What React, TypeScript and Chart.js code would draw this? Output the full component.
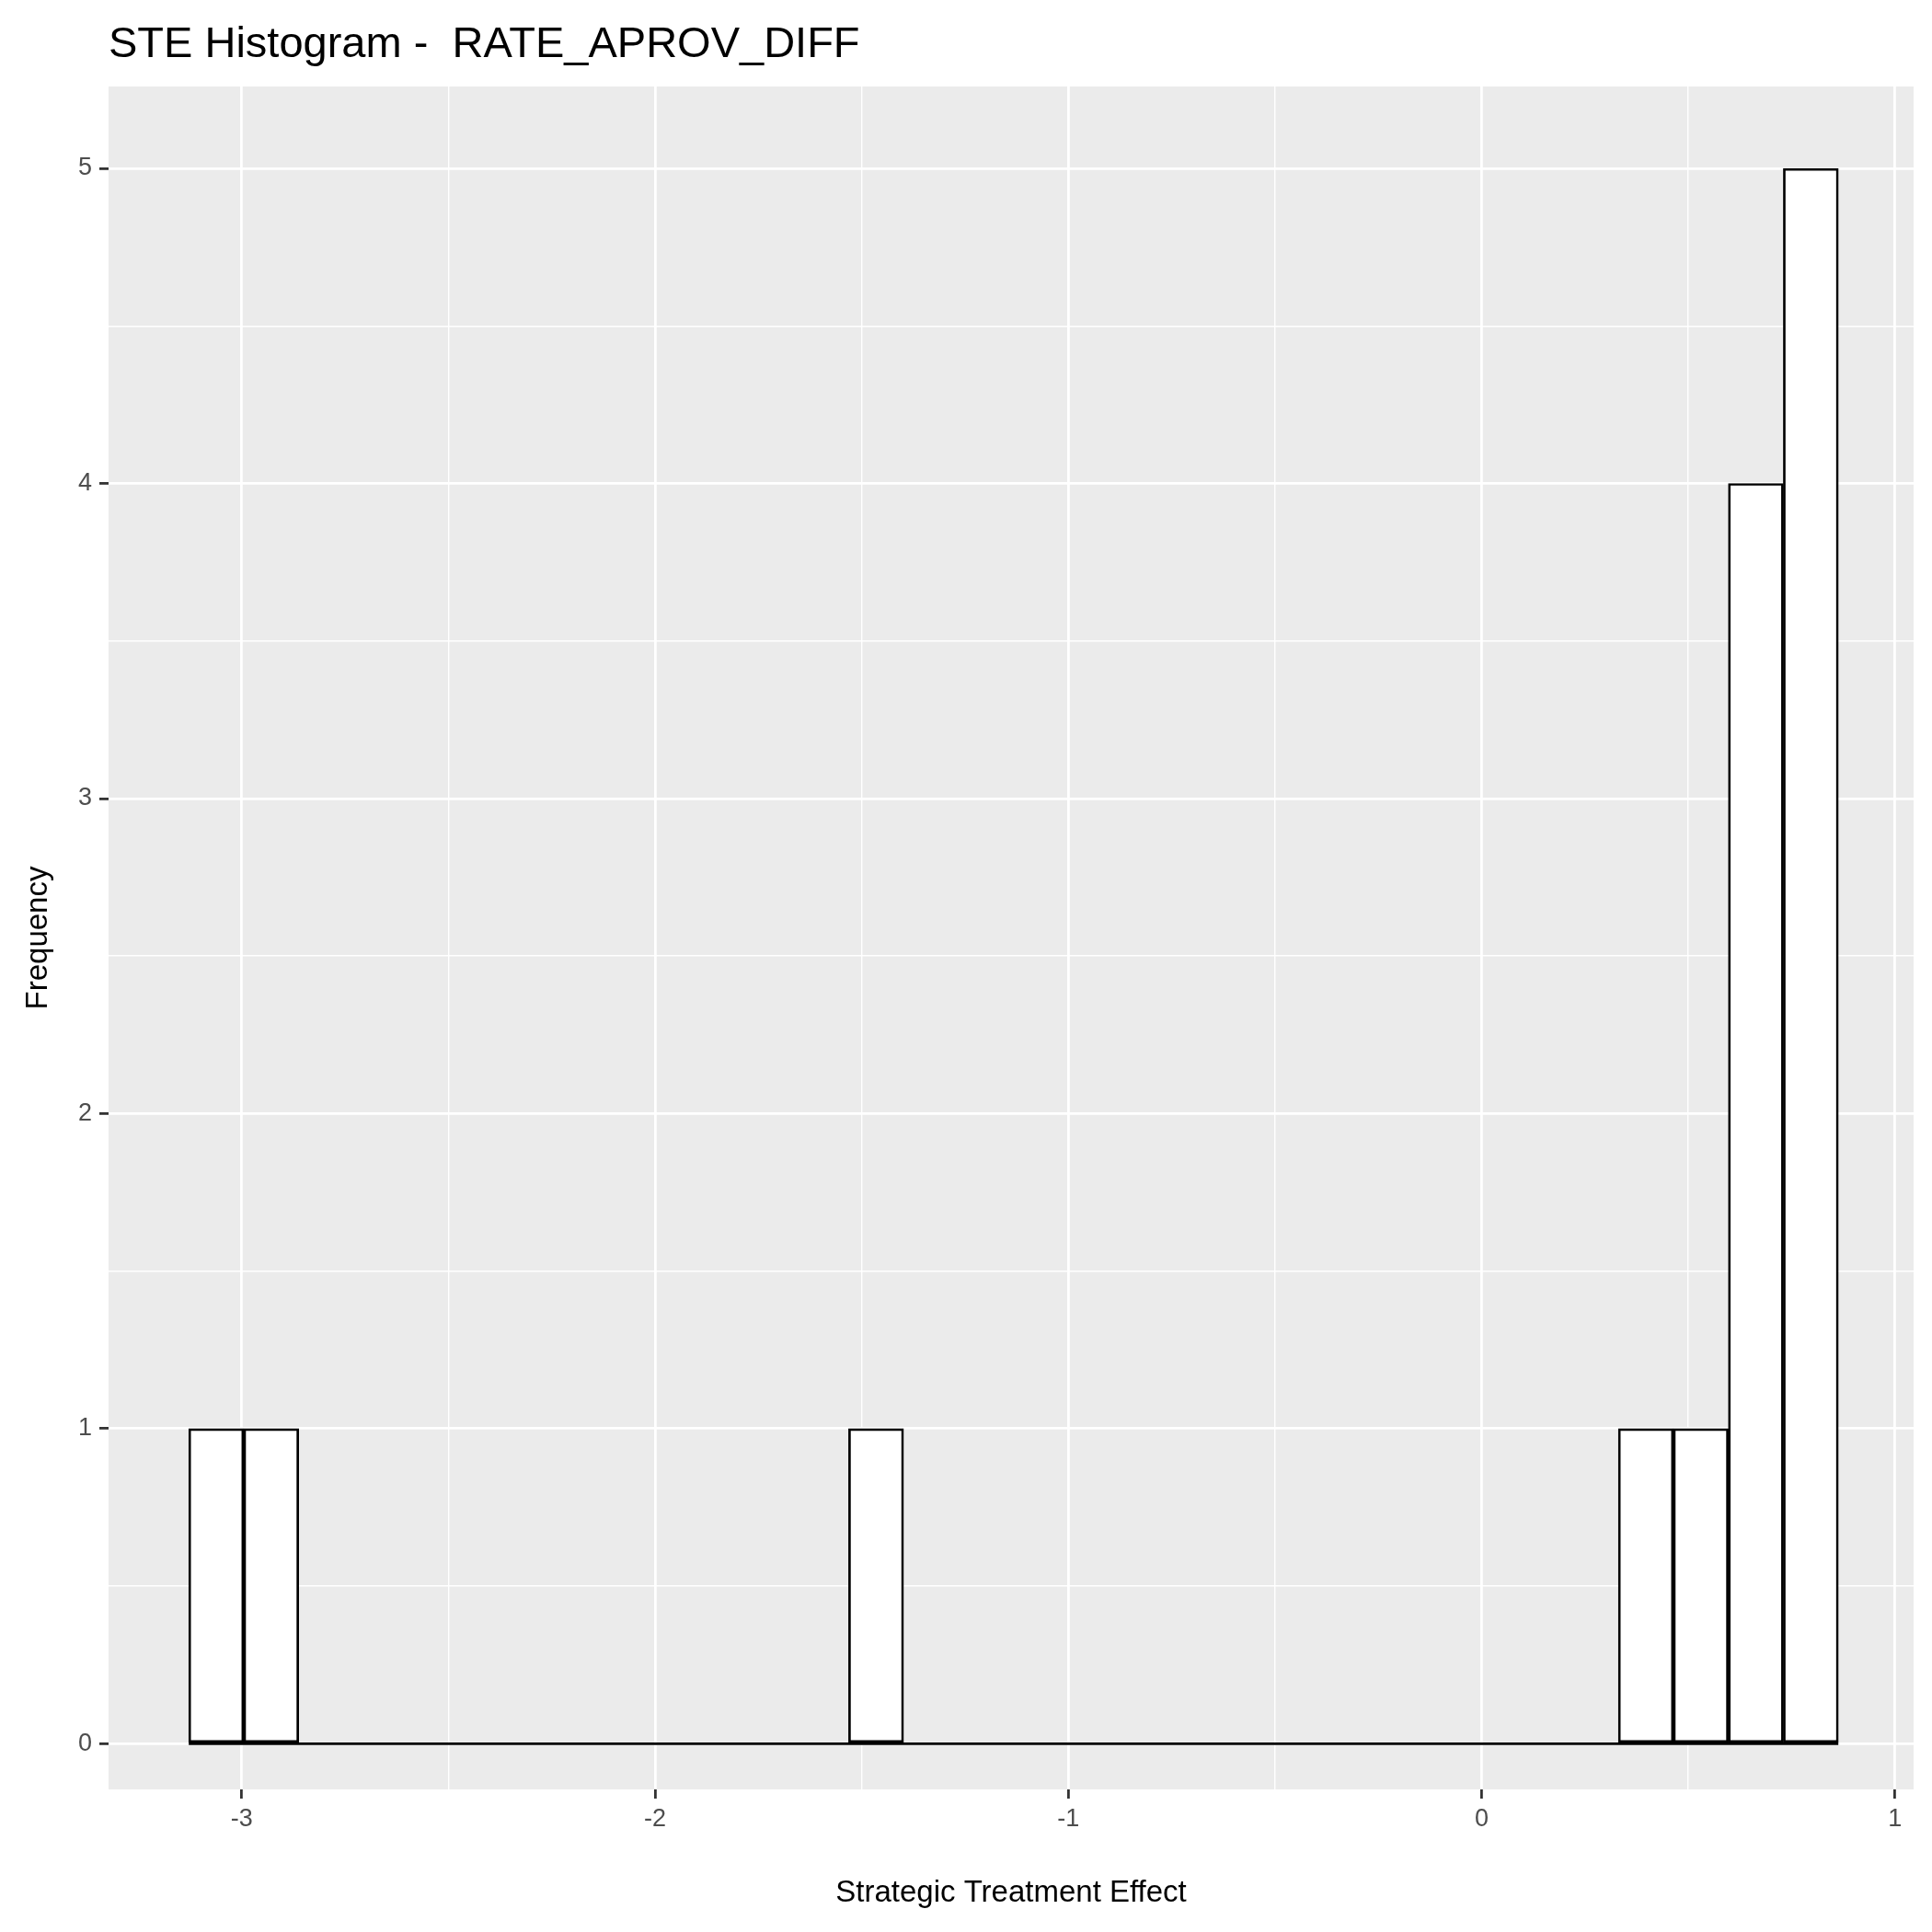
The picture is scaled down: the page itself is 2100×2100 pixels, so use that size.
import React, { useEffect, useRef } from "react";
import { Chart, registerables } from "chart.js";

Chart.register(...registerables);

// histogram: 30 bins, start edge and width
const binStart = -3.128;
const binWidth = 0.13303;
const counts = [1, 1, 0, 0, 0, 0, 0, 0, 0, 0, 0, 0, 1, 0, 0, 0, 0, 0, 0, 0, 0, 0, 0, 0, 0, 0, 1, 1, 4, 5];
const xTicks = [-3, -2, -1, 0, 1];
const yTicks = [0, 1, 2, 3, 4, 5];
const titleText = "STE Histogram -  RATE_APROV_DIFF";

const FONT = "Liberation Sans, Arial, sans-serif";

const panelBg = {
  id: "panelBg",
  beforeDraw(chart: Chart) {
    const { ctx, chartArea: a } = chart;
    ctx.save();
    ctx.fillStyle = "#EBEBEB";
    ctx.fillRect(a.left, a.top, a.right - a.left, a.bottom - a.top);
    ctx.restore();
  },
  afterDraw(chart: Chart) {
    const { ctx, chartArea: a } = chart;
    ctx.save();
    ctx.fillStyle = "#000";
    ctx.font = `47px ${FONT}`;
    ctx.textBaseline = "alphabetic";
    ctx.fillText(titleText, a.left, 62);
    ctx.restore();
  },
};

const isMajor = (v: number) => Math.abs(v - Math.round(v)) < 1e-6;

export default function App() {
  const canvasRef = useRef<HTMLCanvasElement | null>(null);

  useEffect(() => {
    if (!canvasRef.current) return;
    const centers = counts.map((_, i) => binStart + binWidth * (i + 0.5));
    const grid = {
      color: "#fff",
      offset: false,
      lineWidth: (c: any) => (isMajor(c.tick?.value ?? 0) ? 2.8 : 1.4),
      tickColor: (c: any) => (isMajor(c.tick?.value ?? 0) ? "#333" : "rgba(0,0,0,0)"),
      tickLength: 10,
      tickWidth: 2.8,
    };
    const chart = new Chart(canvasRef.current, {
      type: "bar",
      data: {
        datasets: [
          {
            type: "line",
            data: [
              { x: binStart, y: 0 },
              { x: binStart + binWidth * counts.length, y: 0 },
            ],
            borderColor: "#000",
            borderWidth: 2.7,
            pointRadius: 0,
          } as any,
          {
            data: centers.map((c, i) => ({ x: c, y: counts[i] })),
            backgroundColor: "#fff",
            borderColor: "#000",
            borderWidth: 2.7,
            borderSkipped: false,
            barPercentage: 1,
            categoryPercentage: 1,
          },
        ],
      },
      options: {
        animation: false,
        responsive: false,
        layout: { padding: { top: 94, right: 20, left: 22, bottom: 22 } },
        plugins: {
          legend: { display: false },
          tooltip: { enabled: false },
        },
        scales: {
          x: {
            type: "linear",
            offset: false,
            min: -3.322,
            max: 1.045,
            afterBuildTicks: (s: any) => {
              s.ticks = [-3, -2.5, -2, -1.5, -1, -0.5, 0, 0.5, 1].map((v) => ({ value: v }));
            },
            afterFit: (s: any) => {
              s.height = 133;
            },
            border: { display: false },
            grid,
            ticks: {
              color: "#4D4D4D",
              font: { family: FONT, size: 27 },
              maxRotation: 0,
              autoSkip: false,
              padding: 6,
              callback: (v: any) => (xTicks.includes(Number(v)) ? String(v) : ""),
            },
            title: {
              display: true,
              text: "Strategic Treatment Effect",
              color: "#000",
              font: { family: FONT, size: 33 },
              padding: { top: 4, bottom: 0 },
            },
          },
          y: {
            min: -0.145,
            max: 5.26,
            afterBuildTicks: (s: any) => {
              s.ticks = [0, 0.5, 1, 1.5, 2, 2.5, 3, 3.5, 4, 4.5, 5].map((v) => ({ value: v }));
            },
            afterFit: (s: any) => {
              s.width = 96;
            },
            border: { display: false },
            grid,
            ticks: {
              color: "#4D4D4D",
              font: { family: FONT, size: 27 },
              autoSkip: false,
              padding: 8,
              callback: (v: any) => (yTicks.includes(Number(v)) ? String(v) : ""),
            },
            title: {
              display: true,
              text: "Frequency",
              color: "#000",
              font: { family: FONT, size: 33 },
              padding: { top: 0, bottom: 8 },
            },
          },
        },
      },
      plugins: [panelBg],
    });
    return () => chart.destroy();
  }, []);

  return (
    <div style={{ position: "absolute", left: 0, top: 0, width: 2100, height: 2100, background: "#fff" }}>
      <canvas ref={canvasRef} width={2100} height={2100} style={{ width: 2100, height: 2100 }} />
    </div>
  );
}
